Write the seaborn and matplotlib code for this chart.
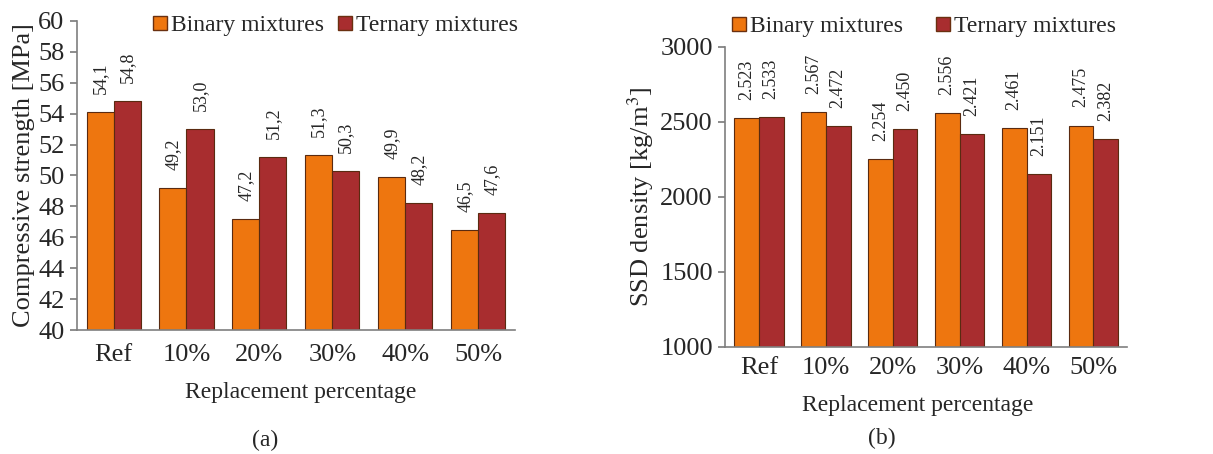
import numpy as np
import pandas as pd
import matplotlib
matplotlib.use("Agg")
import matplotlib.pyplot as plt
import seaborn as sns
from matplotlib.lines import Line2D

categories = ["Ref", "10%", "20%", "30%", "40%", "50%"]
series = ["Binary mixtures", "Ternary mixtures"]
strength_binary = [54.1, 49.2, 47.2, 51.3, 49.9, 46.5]
strength_ternary = [54.8, 53.0, 51.2, 50.3, 48.2, 47.6]
density_binary = [2523, 2567, 2254, 2556, 2461, 2475]
density_ternary = [2533, 2472, 2450, 2421, 2151, 2382]

sns.set_theme(style="white")
plt.rcParams['font.family'] = ['Liberation Serif', 'DejaVu Serif']
plt.rcParams['mathtext.fontset'] = 'stix'

orange = "#EE760F"
red = "#A82D2F"
palette = {series[0]: orange, series[1]: red}

def long_df(b, t):
    return pd.DataFrame({
        "pct": categories * 2,
        "mix": [series[0]] * len(categories) + [series[1]] * len(categories),
        "val": list(b) + list(t),
    })

fig = plt.figure(figsize=(12.13, 4.54), dpi=100)
axL = fig.add_axes([0.0635, 0.273, 0.361, 0.681])
axR = fig.add_axes([0.598, 0.236, 0.331, 0.661])

def style(ax, ylim, yticks, xpad):
    ax.set_ylim(*ylim)
    ax.set_yticks(yticks)
    for s in ["top", "right"]:
        ax.spines[s].set_visible(False)
    for s in ["left", "bottom"]:
        ax.spines[s].set_color("#7f7f7f")
        ax.spines[s].set_linewidth(1.2)
    ax.tick_params(axis="y", which="major", left=True, length=5, color="#7f7f7f",
                   labelsize=19, pad=4)
    ax.tick_params(axis="x", bottom=False, labelsize=19, pad=xpad)
    ax.set_xlim(-0.5, len(categories) - 0.5)

# Panel (a)
dfa = long_df(strength_binary, strength_ternary)
sns.barplot(data=dfa, x="pct", y="val", hue="mix", palette=palette, ax=axL,
            width=0.74, gap=0, saturation=1, edgecolor="#5a2a10", linewidth=0.8,
            legend=False)
style(axL, (40, 60), np.arange(40, 61, 2), 4)
axL.set_ylabel("Compressive strength [MPa]", fontsize=19, labelpad=2)
axL.set_xlabel("Replacement percentage", fontsize=17)
axL.xaxis.set_label_coords(0.511, -0.168)
for cont, vals in zip(axL.containers, [strength_binary, strength_ternary]):
    axL.bar_label(cont, labels=[f"{v:.1f}".replace(".", ",") for v in vals],
                  rotation=90, padding=13, fontsize=13)

# Panel (b)
dfb = long_df(density_binary, density_ternary)
sns.barplot(data=dfb, x="pct", y="val", hue="mix", palette=palette, ax=axR,
            width=0.74, gap=0, saturation=1, edgecolor="#5a2a10", linewidth=0.8,
            legend=False)
style(axR, (1000, 3000), np.arange(1000, 3001, 500), 1)
axR.set_ylabel("SSD density [kg/m$^3$]", fontsize=19)
axR.yaxis.set_label_coords(-0.172, 0.5)
axR.set_xlabel("Replacement percentage", fontsize=17)
axR.xaxis.set_label_coords(0.478, -0.16)
for cont, vals in zip(axR.containers, [density_binary, density_ternary]):
    axR.bar_label(cont, labels=[f"{v/1000:.3f}" for v in vals],
                  rotation=90, padding=13, fontsize=13)

handles = [Line2D([], [], marker="s", linestyle="none", markersize=10,
                  markerfacecolor=c, markeredgecolor="#6a3010") for c in (orange, red)]
axL.legend(handles, series, loc="center", bbox_to_anchor=(0.59, 0.985), ncol=2,
           frameon=False, fontsize=17, handlelength=0.6, handletextpad=0.15,
           columnspacing=0.6, borderaxespad=0)
axR.legend(handles, series, loc="center", bbox_to_anchor=(0.495, 1.067), ncol=2,
           frameon=False, fontsize=17, handlelength=0.6, handletextpad=0.15,
           columnspacing=1.4, borderaxespad=0)

fig.text(265 / 1213, 1 - 440 / 454, "(a)", ha="center", va="center", fontsize=17)
fig.text(882 / 1213, 1 - 438 / 454, "(b)", ha="center", va="center", fontsize=17)

fig.savefig("out.png", dpi=100)
